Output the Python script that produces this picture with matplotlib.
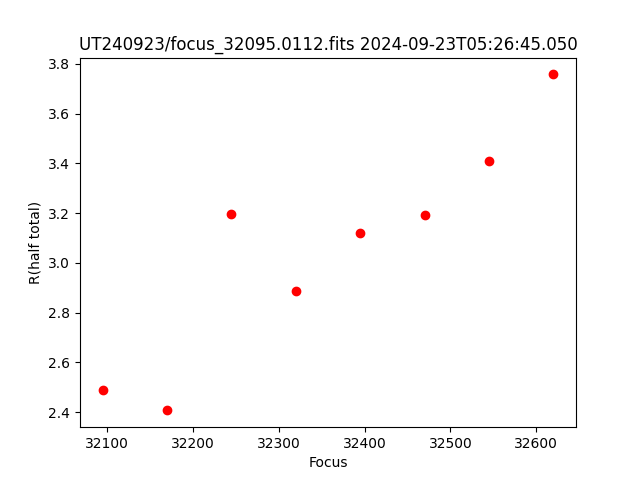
import matplotlib
matplotlib.use('Agg')
import matplotlib.pyplot as plt

focus = [32095, 32170, 32245, 32320, 32395, 32470, 32545, 32620]
r_half = [2.490, 2.407, 3.195, 2.886, 3.119, 3.191, 3.408, 3.758]

fig, ax = plt.subplots(figsize=(6.4, 4.8), dpi=100)
ax.plot(focus, r_half, 'ro')
ax.set_xlabel('Focus')
ax.set_ylabel('R(half total)')
ax.set_title('UT240923/focus_32095.0112.fits 2024-09-23T05:26:45.050')

plt.savefig('out.png')
